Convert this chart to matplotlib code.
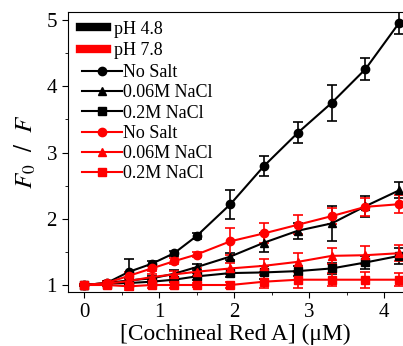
import matplotlib
matplotlib.use('Agg')
import matplotlib.pyplot as plt
from matplotlib.lines import Line2D
from matplotlib.ticker import MultipleLocator

plt.rcParams['font.family'] = ['Liberation Serif', 'DejaVu Serif']
plt.rcParams['mathtext.fontset'] = 'stix'

# concentration of Cochineal Red A (uM)
conc = [0, 0.3, 0.6, 0.9, 1.2, 1.5, 1.95, 2.4, 2.85, 3.3, 3.75, 4.2]

# pH 4.8
ph48_nosalt = [1.0, 1.03, 1.2, 1.32, 1.48, 1.74, 2.22, 2.8, 3.3, 3.75, 4.26, 4.96]
ph48_nosalt_err = [0.02, 0.03, 0.2, 0.04, 0.04, 0.04, 0.22, 0.15, 0.16, 0.27, 0.16, 0.17]
ph48_006 = [1.0, 1.03, 1.07, 1.1, 1.17, 1.27, 1.43, 1.64, 1.82, 1.93, 2.19, 2.43]
ph48_006_err = [0.02, 0.03, 0.04, 0.04, 0.05, 0.05, 0.06, 0.14, 0.12, 0.26, 0.16, 0.12]
ph48_02 = [1.0, 1.02, 1.03, 1.05, 1.08, 1.13, 1.18, 1.19, 1.21, 1.25, 1.34, 1.44]
ph48_02_err = [0.02, 0.02, 0.03, 0.03, 0.04, 0.05, 0.06, 0.1, 0.08, 0.08, 0.1, 0.12]

# pH 7.8
ph78_nosalt = [1.0, 1.03, 1.14, 1.25, 1.36, 1.46, 1.66, 1.78, 1.91, 2.04, 2.18, 2.22]
ph78_nosalt_err = [0.02, 0.03, 0.06, 0.04, 0.05, 0.04, 0.2, 0.15, 0.14, 0.12, 0.14, 0.14]
ph78_006 = [1.0, 1.02, 1.06, 1.12, 1.16, 1.2, 1.25, 1.29, 1.35, 1.44, 1.45, 1.48]
ph78_006_err = [0.02, 0.03, 0.1, 0.05, 0.05, 0.06, 0.08, 0.1, 0.14, 0.12, 0.14, 0.12]
ph78_02 = [1.0, 1.0, 0.98, 1.0, 1.0, 1.0, 1.0, 1.05, 1.08, 1.08, 1.08, 1.08]
ph78_02_err = [0.02, 0.02, 0.06, 0.04, 0.04, 0.03, 0.04, 0.1, 0.12, 0.1, 0.12, 0.1]

fig = plt.figure(figsize=(4.03, 3.46), dpi=100)
ax = fig.add_axes([0.169, 0.156, 0.831, 0.809])

series = [
    (ph48_nosalt, ph48_nosalt_err, 'black', 'o', 'No Salt'),
    (ph48_006, ph48_006_err, 'black', '^', '0.06M NaCl'),
    (ph48_02, ph48_02_err, 'black', 's', '0.2M NaCl'),
    (ph78_nosalt, ph78_nosalt_err, 'red', 'o', 'No Salt'),
    (ph78_006, ph78_006_err, 'red', '^', '0.06M NaCl'),
    (ph78_02, ph78_02_err, 'red', 's', '0.2M NaCl'),
]

handles = []
for y, err, col, mk, lab in series:
    ax.errorbar(conc, y, yerr=err, color=col, marker=mk, markersize=6,
                linewidth=1.5, elinewidth=1.2, capsize=3.5, capthick=1.2)
    handles.append(Line2D([], [], color=col, marker=mk, markersize=6,
                          linewidth=1.5, label=lab))

# legend for pH (thick bars)
ph_handles = [Line2D([], [], color='black', linewidth=6, label='pH 4.8'),
              Line2D([], [], color='red', linewidth=6, label='pH 7.8')]
leg1 = ax.legend(handles=ph_handles, loc='upper left', frameon=False,
                 fontsize=13, handlelength=1.5, borderaxespad=0.0,
                 labelspacing=0.25, handletextpad=0.35,
                 bbox_to_anchor=(0.015, 0.995))
ax.add_artist(leg1)
ax.legend(handles=handles, loc='upper left', frameon=False, fontsize=13,
          handlelength=2.2, borderaxespad=0.0, labelspacing=0.18,
          handletextpad=0.05, bbox_to_anchor=(0.02, 0.84))

ax.set_xlim(-0.213, 4.25)
ax.set_ylim(0.894, 5.12)
ax.xaxis.set_major_locator(MultipleLocator(1))
ax.xaxis.set_minor_locator(MultipleLocator(0.5))
ax.yaxis.set_major_locator(MultipleLocator(1))
ax.yaxis.set_minor_locator(MultipleLocator(0.5))
ax.tick_params(which='both', direction='out', top=False, right=False,
               labelsize=15)
ax.tick_params(which='major', length=4, pad=4)
ax.tick_params(which='minor', length=2.5)
ax.spines['right'].set_visible(False)

ax.set_xlabel('[Cochineal Red A] (μM)', fontsize=16.8, labelpad=1)
ax.set_ylabel(r'$F_{\mathit{0}}\ \ /\ \ F$', fontsize=18, labelpad=6)

fig.savefig('out.png', dpi=100)
